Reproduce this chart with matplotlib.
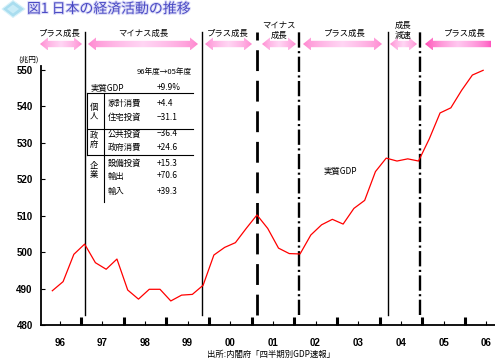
import numpy as np
import matplotlib
matplotlib.use("Agg")
import matplotlib.pyplot as plt
from matplotlib.patches import Polygon
from matplotlib.colors import to_rgb
import matplotlib.transforms as mtransforms
import matplotlib.patheffects as pe

plt.rcParams['font.family'] = ['Noto Sans CJK JP', 'DejaVu Sans']
plt.rcParams['lines.scale_dashes'] = False

# ---------------------------------------------------------
# Data: real GDP (trillion yen), quarterly, 96Q1 - 06Q1
# ---------------------------------------------------------
gdp = [489.4, 491.9, 499.4, 502.2, 497.1, 495.3, 498.1, 489.6, 487.1, 489.8,
       489.8, 486.6, 488.2, 488.4, 490.9, 499.2, 501.3, 502.6, 506.5, 510.2,
       506.5, 501.1, 499.6, 499.5, 504.7, 507.5, 509.0, 507.7, 512.0, 514.2,
       522.1, 525.8, 525.0, 525.6, 525.0, 531.1, 538.2, 539.6, 544.4, 548.6,
       549.9]
year_labels = ['96', '97', '98', '99', '00', '01', '02', '03', '04', '05', '06']
y_ticks = [480, 490, 500, 510, 520, 530, 540, 550]

# phase boundaries (quarter index) and line styles
phase_x = [3.03, 13.89, 19.0, 22.9, 31.15, 34.17]
phase_style = ['solid', 'solid', 'dash', 'dashdot', 'solid', 'dashdot']

phase_labels = ['プラス成長', 'マイナス成長', 'プラス成長', 'マイナス\n成長',
                'プラス成長', '成長\n減速', 'プラス成長']

table_title = '96年度→05年度'
table_groups = ['個\n人', '政\n府', '企\n業']
table_items = ['家計消費', '住宅投資', '公共投資', '政府消費', '設備投資', '輸出', '輸入']
table_values = ['+4.4', '−31.1', '−36.4', '+24.6', '+15.3', '+70.6', '+39.3']
gdp_change = '+9.9%'

# ---------------------------------------------------------
# Figure
# ---------------------------------------------------------
fig = plt.figure(figsize=(4.95, 3.59), dpi=100)
ax = fig.add_axes([41 / 495, 34 / 359, 454 / 495, 258.7 / 359])

q = np.arange(len(gdp))
ax.plot(q, gdp, color='red', lw=0.9, zorder=3)

ax.set_xlim(-1.05, 41.1)
ax.set_ylim(480, 551)
for s in ['top', 'right']:
    ax.spines[s].set_visible(False)
for s in ['left', 'bottom']:
    ax.spines[s].set_linewidth(1.3)

ax.set_yticks(y_ticks)
ax.set_yticklabels([str(v) for v in y_ticks], fontsize=7, fontweight='bold',
                   family='Liberation Sans')
ax.tick_params(axis='y', direction='in', length=3, width=0.8, pad=6)

bounds = [2.66 + 3.96 * j for j in range(10)]
mids = [0.68 + 3.96 * j for j in range(len(year_labels))]
ax.set_xticks(bounds)
ax.set_xticklabels([])
ax.tick_params(axis='x', which='major', direction='in', length=6, width=2.2)
ax.set_xticks(mids, year_labels, minor=True)
ax.tick_params(axis='x', which='minor', direction='in', length=3, width=0.8, pad=9)
for t in ax.get_xticklabels(minor=True):
    t.set_fontsize(7)
    t.set_fontweight('bold')
    t.set_family('Liberation Sans')

# phase lines, extending above the plot area
trans = mtransforms.blended_transform_factory(ax.transData, ax.transAxes)
for xv, st in zip(phase_x, phase_style):
    if st == 'solid':
        kw = dict(lw=1.0, ls='-')
    elif st == 'dash':
        kw = dict(lw=2.0, ls=(0, (15, 7)))
    else:
        kw = dict(lw=1.7, ls=(0, (11, 2.5, 1.5, 2.5)))
    ax.plot([xv, xv], [0.039, 1.133], color='black', transform=trans,
            clip_on=False, zorder=2, **kw)

# ---------------------------------------------------------
# Overlay in pixel coordinates: title, arrows, table, notes
# ---------------------------------------------------------
ov = fig.add_axes([0, 0, 1, 1])
ov.patch.set_alpha(0)
ov.axis('off')


def grad_arrow(x0, x1, y, heads='both', c_end='#ff7fcc', c_mid='#ffd6f4', c_right=None):
    hl, bw, hw = 8, 3.2, 6.5
    if heads == 'both':
        pts = [(x0, y), (x0 + hl, y - hw), (x0 + hl, y - bw), (x1 - hl, y - bw),
               (x1 - hl, y - hw), (x1, y), (x1 - hl, y + hw), (x1 - hl, y + bw),
               (x0 + hl, y + bw), (x0 + hl, y + hw)]
    else:
        pts = [(x0, y), (x0 + hl, y - hw), (x0 + hl, y - bw), (x1, y - bw),
               (x1, y + bw), (x0 + hl, y + bw), (x0 + hl, y + hw)]
    poly = Polygon(pts, closed=True, fc='none', ec='none')
    ov.add_patch(poly)
    n = 200
    t = np.linspace(0, 1, n)
    ce, cm = np.array(to_rgb(c_end)), np.array(to_rgb(c_mid))
    cr = np.array(to_rgb(c_right)) if c_right else ce
    w = 1 - np.abs(2 * t - 1)
    ends = np.where(t[:, None] < 0.5, ce, cr)
    img = ends + (cm - ends) * (w[:, None] ** 0.6)
    im = ov.imshow(img[None, :, :], extent=(x0, x1, y + hw, y - hw),
                   aspect='auto', interpolation='bilinear')
    im.set_clip_path(poly)


arrow_spans = [(40, 82), (88, 198), (205, 252), (262, 296), (303, 382), (390, 417), (425, 491)]
label_x = [60, 143, 228, 279, 345, 403, 465]
for i, ((x0, x1), lab, lx) in enumerate(zip(arrow_spans, phase_labels, label_x)):
    if i == len(arrow_spans) - 1:
        grad_arrow(x0, x1, 44, heads='left', c_end='#ff3fae', c_mid='#ffc8f0',
                   c_right='#ff4fbc')
    else:
        grad_arrow(x0, x1, 44)
    if '\n' in lab:
        ov.text(lx, 30.5, lab, fontsize=6, ha='center', va='center', linespacing=1.05)
    else:
        ov.text(lx, 33, lab, fontsize=6, ha='center', va='center')

# title with diamond icon
ov.add_patch(Polygon([(2, 9), (13, 0.5), (25, 9), (13, 17.5)], closed=True,
                     fc='#a9ddef', ec='#d8f2fa', lw=0.8))
ov.add_patch(Polygon([(7, 9), (13, 4.5), (19, 9), (13, 13.5)], closed=True,
                     fc='#c9ecf7', ec='none'))
ov.text(27, 9, '図1 日本の経済活動の推移', fontsize=10, color='#4a4ac4',
        ha='left', va='center',
        path_effects=[pe.withStroke(linewidth=1.5, foreground='#dcdcf8')])

ov.text(18, 60, '(兆円)', fontsize=5.5, ha='left', va='center')

# component table
ov.text(137, 72, table_title, fontsize=5.5, ha='left', va='center')
ov.text(91, 88, '実質GDP', fontsize=6, ha='left', va='center')
ov.text(157, 88, gdp_change, fontsize=6, ha='left', va='center')
for yl in [93, 129, 155]:
    ov.plot([87, 193], [yl, yl], color='black', lw=0.8)
ov.plot([87, 87], [93, 155], color='black', lw=0.8)
ov.plot([104, 104], [93, 202], color='black', lw=0.8)

item_y = [103, 117, 134, 147, 163, 176, 191]
for name, val, yy in zip(table_items, table_values, item_y):
    ov.text(108, yy, name, fontsize=6, ha='left', va='center')
    ov.text(157, yy, val, fontsize=6, ha='left', va='center')
group_y = [112, 140, 170]
for g, yy in zip(table_groups, group_y):
    ov.text(94, yy, g, fontsize=6, ha='center', va='center', linespacing=0.95)

ov.text(340, 171, '実質GDP', fontsize=6, ha='center', va='center')
ov.text(207, 354, '出所:内閣府「四半期別GDP速報」', fontsize=6, ha='left', va='center')

ov.set_xlim(0, 495)
ov.set_ylim(359, 0)

fig.savefig('out.png', dpi=100)
